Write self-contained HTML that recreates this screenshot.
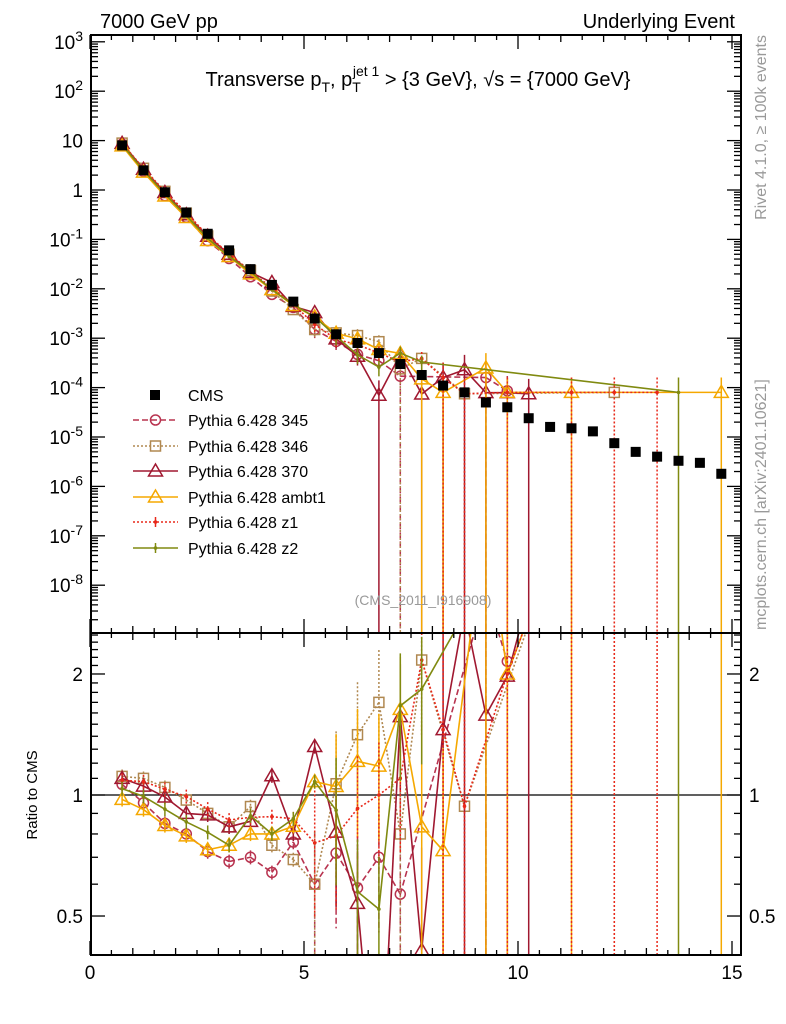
<!DOCTYPE html>
<html><head><meta charset="utf-8"><style>
html,body{margin:0;background:#fff;width:786px;height:1024px;overflow:hidden;}
svg{display:block;overflow:hidden;}
svg text{font-family:"Liberation Sans",sans-serif;}
</style></head><body>
<svg id="c" width="786" height="1024" viewBox="0 0 786 1024" xmlns="http://www.w3.org/2000/svg">
<defs>
<clipPath id="cm"><rect x="91" y="35" width="650" height="598"/></clipPath>
<clipPath id="cr"><rect x="91" y="633" width="650" height="322"/></clipPath>
</defs>
<g id="axes"></g>
<g id="marks"></g>
<g id="fg"></g>
<text x="100" y="28" font-size="20">7000 GeV pp</text>
<text x="735" y="28" font-size="20" text-anchor="end">Underlying Event</text>
<text x="418" y="86" font-size="20" text-anchor="middle">Transverse p<tspan dy="6" font-size="14">T</tspan><tspan dy="-6">, p</tspan><tspan dy="6" font-size="14">T</tspan><tspan dy="-16" dx="-8" font-size="14">jet 1</tspan><tspan dy="10"> &gt; {3 GeV}, √s = {7000 GeV}</tspan></text>
<text x="423" y="605" font-size="14" fill="#999" text-anchor="middle">(CMS_2011_I916908)</text>
<text transform="translate(766,35) rotate(-90)" font-size="16" fill="#999" text-anchor="end">Rivet 4.1.0, ≥ 100k events</text>
<text transform="translate(766,630) rotate(-90)" font-size="16" fill="#999">mcplots.cern.ch [arXiv:2401.10621]</text>
<text transform="translate(37,795) rotate(-90)" font-size="15" text-anchor="middle">Ratio to CMS</text>
</svg>
<script>
const xCenters=[0.75,1.25,1.75,2.25,2.75,3.25,3.75,4.25,4.75,5.25,5.75,6.25,6.75,7.25,7.75,8.25,8.75,9.25,9.75,10.25,10.75,11.25,11.75,12.25,12.75,13.25,13.75,14.25,14.75];
const cms=[8,2.5,0.9,0.35,0.13,0.06,0.025,0.012,0.0055,0.0025,0.0012,0.0008,0.0005,0.0003,0.00018,0.00011,0.00008,0.00005,0.00004,0.000024,0.000016,0.000015,0.000013,0.0000075,0.000005,0.000004,0.0000033,0.000003,0.0000018];
const s345=[8.5,2.39,0.765,0.28,0.094,0.041,0.0175,0.0077,0.0042,0.0015,0.00086,0.00047,0.00035,0.00017,null,null,null,0.00016,0.000086,null,null,null,null,null,null,null,null,null,null];
const s346=[8.9,2.75,0.94,0.34,0.117,0.050,0.0234,0.009,0.0038,0.0015,0.00128,0.00113,0.00085,0.00024,0.00039,null,0.000075,null,null,null,null,null,null,0.00008,null,null,null,null,null];
const s370=[8.8,2.63,0.89,0.315,0.116,0.050,0.0215,0.0134,0.0044,0.0033,0.00097,0.00043,0.00007,0.00047,0.000074,0.00016,0.00023,0.000079,0.000079,0.000075,null,null,null,null,null,null,null,null,null];
const sAmbt1=[7.8,2.3,0.756,0.277,0.095,0.045,0.020,0.0096,0.0046,0.0027,0.00126,0.00097,0.00059,0.00049,0.00015,0.00008,null,0.00025,0.00008,null,null,0.00008,null,null,null,null,null,null,0.00008];
const sZ1=[8.7,2.7,0.93,0.347,0.12,0.052,0.022,0.0106,0.0048,0.0019,0.00095,0.00074,0.0005,0.00033,0.00039,0.00016,0.000075,null,0.00008,null,null,0.00008,null,0.00008,null,0.00008,null,null,null];
const sZ2=[8.3,2.48,0.83,0.30,0.105,0.045,0.0222,0.0096,0.0048,0.0027,0.0011,0.00046,0.00026,0.0005,0.00033,null,null,null,null,null,null,null,null,null,null,null,0.00008,null,null];
const yTickExp=[3,2,1,0,-1,-2,-3,-4,-5,-6,-7,-8];
const xTickLabels=[0,5,10,15];
const ratioTicks=[0.5,1,2];

const NS="http://www.w3.org/2000/svg";
const X=v=>90+v*42.8;
const Y=v=>190-49.4*Math.log10(v);
const R=r=>795-402*Math.log10(r);
const YB=633, RB=955, RT=633, YT=35;
function el(tag,attrs,parent,txt){const e=document.createElementNS(NS,tag);for(const k in attrs)e.setAttribute(k,attrs[k]);if(txt!==undefined)e.textContent=txt;parent.appendChild(e);return e;}
// clip segment to y range
function seg(g,x1,y1,x2,y2,ymin,ymax,attrs){
 if((y1<ymin&&y2<ymin)||(y1>ymax&&y2>ymax))return;
 const f=y=>x1+(x2-x1)*(y-y1)/(y2-y1);
 if(y1<ymin){x1=f(ymin);y1=ymin;} if(y1>ymax){x1=f(ymax);y1=ymax;}
 if(y2<ymin){x2=x1+(x2-x1)*0+f(ymin)-x1;y2=ymin;} else if(y2>ymax){x2=f(ymax);y2=ymax;}
 el('line',Object.assign({x1:x1,y1:y1,x2:x2,y2:y2},attrs),g);}
const axes=document.getElementById('axes'),marks=document.getElementById('marks'),fg=document.getElementById('fg');

let f1=el('rect',{x:91,y:35,width:650,height:598,fill:'none',stroke:'#000','stroke-width':2},fg);

let f2=el('rect',{x:91,y:633,width:650,height:322,fill:'none',stroke:'#000','stroke-width':2},fg);

let one=el('line',{x1:91,x2:741,y1:R(1),y2:R(1),stroke:'#000','stroke-width':1.3},axes);


for(let v=0;v<=15.2;v+=0.5){const major=Math.abs(v-Math.round(v/5)*5)<1e-6;const len=major?14:(Math.abs(v-Math.round(v))<1e-6?7:5);
 for(const [yb,yt] of [[YB,35],[RB,RT]]){el('line',{x1:X(v),x2:X(v),y1:yb,y2:yb-len,stroke:'#000','stroke-width':1.3},fg);el('line',{x1:X(v),x2:X(v),y1:yt,y2:yt+len,stroke:'#000','stroke-width':1.3},fg);}}
xTickLabels.forEach(v=>{let t=el('text',{x:X(v),y:979,'font-size':19,'text-anchor':'middle'},fg,String(v));});
for(let e=-9;e<=3;e++){for(let m=1;m<=9;m++){const v=m*Math.pow(10,e);const y=Y(v);if(y<35||y>633)continue;const len=m===1?14:7;
 el('line',{x1:91,x2:91+len,y1:y,y2:y,stroke:'#000','stroke-width':1.3},fg);el('line',{x1:741,x2:741-len,y1:y,y2:y,stroke:'#000','stroke-width':1.3},fg);}}
yTickExp.forEach(e=>{const y=Y(Math.pow(10,e));let t;
 if(e===1||e===0){t=el('text',{x:83,y:y+7,'font-size':19,'text-anchor':'end'},fg,e===1?'10':'1');}
 else{t=el('text',{x:83,y:y+7,'font-size':19,'text-anchor':'end'},fg);el('tspan',{},t,'10');el('tspan',{dy:-8,'font-size':14},t,String(e));}
 });
for(let r=0.4;r<=2.55;r+=0.1){const y=R(r);if(y<633||y>955)continue;const major=ratioTicks.some(q=>Math.abs(q-r)<1e-6);const len=major?14:7;
 el('line',{x1:91,x2:91+len,y1:y,y2:y,stroke:'#000','stroke-width':1.3},fg);el('line',{x1:741,x2:741-len,y1:y,y2:y,stroke:'#000','stroke-width':1.3},fg);}
ratioTicks.forEach(r=>{let t=el('text',{x:83,y:R(r)+7,'font-size':19,'text-anchor':'end'},fg,String(r));
 let t2=el('text',{x:749,y:R(r)+7,'font-size':19},fg,String(r));});

const series=[
 {name:'345',data:s345,color:'#b8334f',dash:'6,3',marker:'circle',label:'Pythia 6.428 345'},
 {name:'346',data:s346,color:'#b08850',dash:'2,2',marker:'square',label:'Pythia 6.428 346'},
 {name:'370',data:s370,color:'#a01830',dash:'',marker:'triangle',label:'Pythia 6.428 370'},
 {name:'ambt1',data:sAmbt1,color:'#f5a800',dash:'',marker:'triangle',label:'Pythia 6.428 ambt1'},
 {name:'z1',data:sZ1,color:'#e8281a',dash:'2,2',marker:'dot',label:'Pythia 6.428 z1'},
 {name:'z2',data:sZ2,color:'#808a10',dash:'',marker:'dot',label:'Pythia 6.428 z2'}];
function marker(g,type,x,y,color){
 if(type==='circle')el('circle',{cx:x,cy:y,r:5,fill:'none',stroke:color,'stroke-width':1.5},g);
 else if(type==='square')el('rect',{x:x-5,y:y-5,width:10,height:10,fill:'none',stroke:color,'stroke-width':1.5},g);
 else if(type==='triangle')el('path',{d:`M${x},${y-7}L${x+7},${y+5}L${x-7},${y+5}Z`,fill:'none',stroke:color,'stroke-width':1.5},g);
 else el('circle',{cx:x,cy:y,r:1.8,fill:color},g);}
series.forEach(s=>{
 const gm=el('g',{'clip-path':'url(#cm)'},marks);
 const gr=el('g',{'clip-path':'url(#cr)'},marks);
 const la={stroke:s.color,'stroke-width':1.6,'stroke-dasharray':s.dash,'stroke-linecap':'butt'};
 const ea={stroke:s.color,'stroke-width':1.5,'stroke-dasharray':s.dash};
 let prev=null;
 s.data.forEach((v,i)=>{if(v==null)return;const x=X(xCenters[i]);const y=Y(v);const r=v/cms[i];const yr=R(r);
  if(prev){seg(gm,prev[0],prev[1],x,y,YT-10,YB+10,la);seg(gr,prev[0],prev[2],x,yr,RT-10,RB+10,la);}
  prev=[x,y,yr];
  const rel=v<=0.00025?1:(v<0.002?0.35:0.04);
  const lo=rel>=1?YB:Y(v*(1-rel));const hi=Y(v*(1+rel));
  seg(gm,x,hi,x,lo,YT,YB,ea);
  const rlo=rel>=1?RB:R(r*(1-rel));const rhi=rel>=1?R(r*1.8):R(r*(1+rel));
  seg(gr,x,rhi,x,rlo,RT,RB,ea);
  if(y>=YT-10&&y<=YB+10)marker(gm,s.marker,x,y,s.color);
  if(yr>=RT-10&&yr<=RB+10)marker(gr,s.marker,x,yr,s.color);});
});
const gc=el('g',{'clip-path':'url(#cm)'},marks);
cms.forEach((v,i)=>{let r=el('rect',{x:X(xCenters[i])-5,y:Y(v)-5,width:10,height:10,fill:'#000'},gc);});

const leg=el('g',{},fg);
const ly=[395,420,446,471,497,522,548];
el('rect',{x:150,y:ly[0]-5,width:10,height:10,fill:'#000'},leg);
el('text',{x:188,y:ly[0]+6,'font-size':16},leg,'CMS');
series.forEach((s,k)=>{const y=ly[k+1];const g=el('g',{},leg);
 el('line',{x1:133,x2:178,y1:y,y2:y,stroke:s.color,'stroke-width':1.6,'stroke-dasharray':s.dash},g);
 if(s.marker==='dot')el('line',{x1:155.5,x2:155.5,y1:y-5,y2:y+5,stroke:s.color,'stroke-width':1.5},g);
 marker(g,s.marker,155.5,y,s.color);
 el('text',{x:188,y:y+6,'font-size':16},g,s.label);});
</script>
</body></html>
